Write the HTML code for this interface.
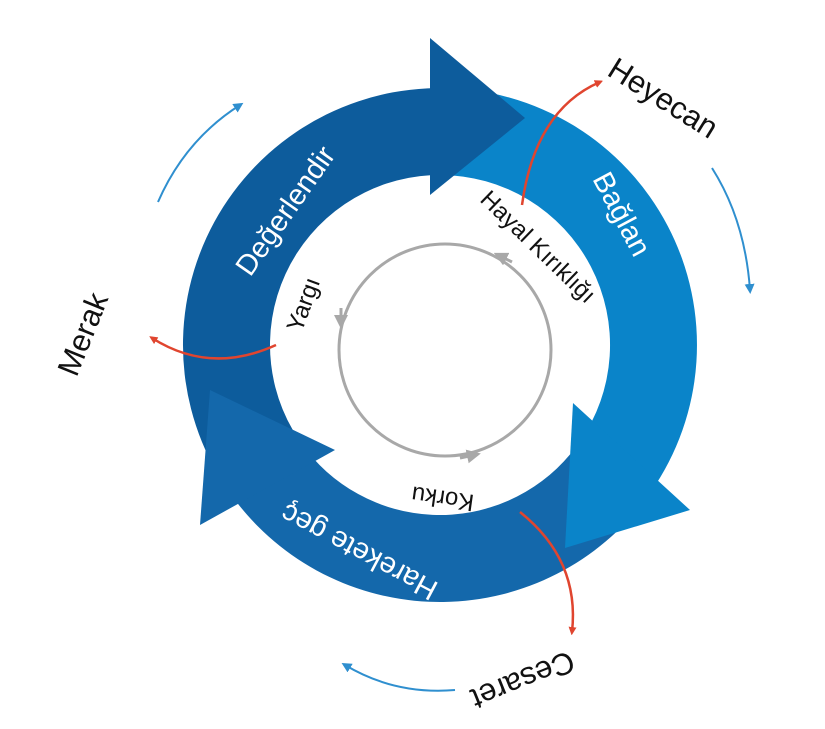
<!DOCTYPE html>
<html><head><meta charset="utf-8"><style>
html,body{margin:0;padding:0;background:#fff;}
svg{display:block;font-family:"Liberation Sans",sans-serif;}
</style></head><body>
<svg width="825" height="729" viewBox="0 0 825 729" xmlns="http://www.w3.org/2000/svg">
<defs>
<marker id="ar" markerWidth="8" markerHeight="8" refX="5" refY="4" orient="auto" markerUnits="userSpaceOnUse"><path d="M0,0 L14,4 L0,8 z" fill="#e0452f" transform="scale(0.6,1)"/></marker>
<marker id="ab" markerWidth="10" markerHeight="10" refX="6" refY="5" orient="auto" markerUnits="userSpaceOnUse"><path d="M0,0 L10,5 L0,10 z" fill="#2f8fcf"/></marker>
<marker id="ag" markerWidth="14" markerHeight="14" refX="7" refY="7" orient="auto" markerUnits="userSpaceOnUse"><path d="M0,0 L14,7 L0,14 z" fill="#a8a8a8"/></marker>
</defs>
<!-- ring segments: center 440,345 ; r 170..257 -->
<g transform="translate(440,345)">
<!-- dark: 150 -> 275 deg -->
<path d="M -222.6 128.5 A 257 257 0 0 1 22.4 -256 L 14.8 -169.4 A 170 170 0 0 0 -147.2 85 Z" fill="#0d5c9c"/>
<!-- light: 270 -> 35 deg -->
<path d="M 0 -257 A 257 257 0 0 1 210.5 147.4 L 139.3 97.5 A 170 170 0 0 0 0 -170 Z" fill="#0a84c9"/>
<!-- mid: 40 -> 145 deg -->
<path d="M 196.9 165.2 A 257 257 0 0 1 -210.5 147.4 L -139.3 97.5 A 170 170 0 0 0 130.2 109.3 Z" fill="#1468ab"/>
</g>
<!-- arrowheads -->
<polygon points="430,38 525,118 430,195" fill="#0d5c9c"/>
<polygon points="573,403 690,510 565,548" fill="#0a84c9"/>
<polygon points="335,450 200,525 210,390" fill="#1468ab"/>
<!-- inner gray circle -->
<circle cx="445" cy="350" r="106" fill="none" stroke="#a8a8a8" stroke-width="3"/>
<path d="M512,262 L500,256" stroke="#a8a8a8" stroke-width="3" marker-end="url(#ag)"/>
<path d="M341,308 L341,322" stroke="#a8a8a8" stroke-width="3" marker-end="url(#ag)"/>
<path d="M460,458 L474,455" stroke="#a8a8a8" stroke-width="3" marker-end="url(#ag)"/>
<!-- red arrows -->
<path d="M522,205 Q535,110 600,82" fill="none" stroke="#e0452f" stroke-width="2.5" marker-end="url(#ar)"/>
<path d="M276,345 Q210,375 152,338" fill="none" stroke="#e0452f" stroke-width="2.5" marker-end="url(#ar)"/>
<path d="M520,512 Q580,560 572,632" fill="none" stroke="#e0452f" stroke-width="2.5" marker-end="url(#ar)"/>
<!-- blue thin arrows -->
<path d="M158,202 Q185,140 240,105" fill="none" stroke="#2f8fcf" stroke-width="2" marker-end="url(#ab)"/>
<path d="M712,168 Q745,220 750,290" fill="none" stroke="#2f8fcf" stroke-width="2" marker-end="url(#ab)"/>
<path d="M455,690 Q395,695 345,665" fill="none" stroke="#2f8fcf" stroke-width="2" marker-end="url(#ab)"/>
<!-- labels -->
<g fill="#fff" font-size="29">
<text transform="translate(287,212) rotate(-55)" text-anchor="middle" dominant-baseline="middle">Değerlendir</text>
<text transform="translate(620,215) rotate(62)" text-anchor="middle" dominant-baseline="middle">Bağlan</text>
<text transform="translate(360,550) rotate(208)" text-anchor="middle" dominant-baseline="middle">Harekete geç</text>
</g>
<g fill="#111" font-size="24">
<text transform="translate(305,305) rotate(-70)" text-anchor="middle" dominant-baseline="middle">Yargı</text>
<text transform="translate(537,248) rotate(44)" text-anchor="middle" dominant-baseline="middle">Hayal Kırıklığı</text>
<text transform="translate(443,497) rotate(188)" text-anchor="middle" dominant-baseline="middle">Korku</text>
</g>
<g fill="#111" font-size="31">
<text transform="translate(662,100) rotate(32)" text-anchor="middle" dominant-baseline="middle">Heyecan</text>
<text transform="translate(85,335) rotate(-68)" text-anchor="middle" dominant-baseline="middle">Merak</text>
<text transform="translate(522,678) rotate(158)" text-anchor="middle" dominant-baseline="middle">Cesaret</text>
</g>
</svg>
</body></html>
